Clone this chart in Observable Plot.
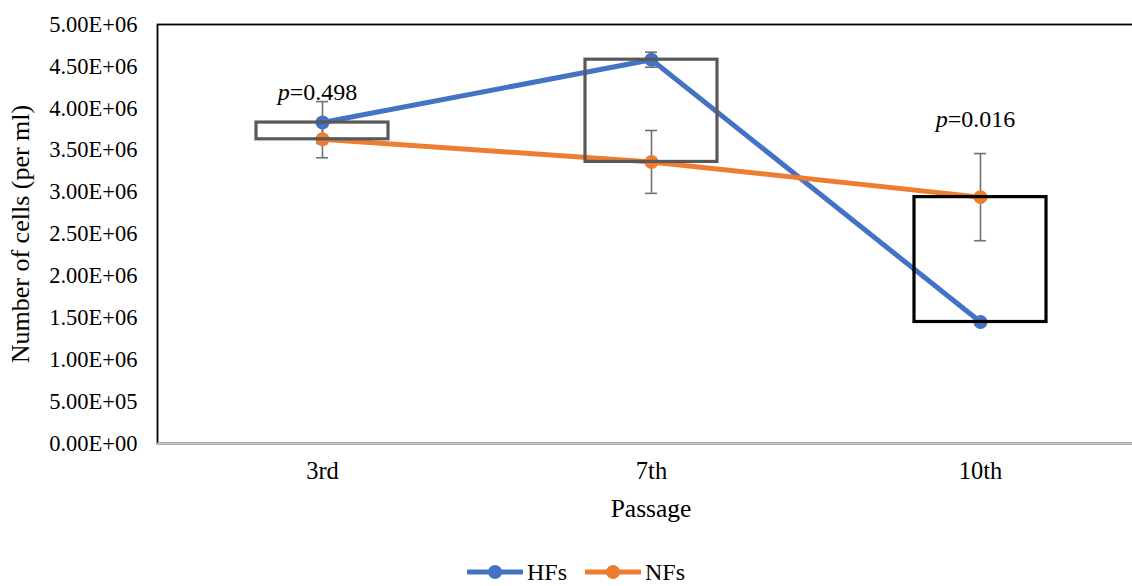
<!DOCTYPE html>
<html>
<head>
<meta charset="utf-8">
<script src="https://cdn.jsdelivr.net/npm/d3@7"></script>
<script src="https://cdn.jsdelivr.net/npm/@observablehq/plot@0.6"></script>
<style>
  html, body { margin: 0; padding: 0; background: #fff; }
  body { width: 1132px; height: 586px; position: relative; overflow: hidden; font-family: "Liberation Serif", "Times New Roman", serif; }
  #legend { position: absolute; left: 0; top: 558px; width: 1132px; height: 28px; }
  .item { position: absolute; top: 0; height: 28px; display: flex; align-items: center; font-size: 24px; line-height: 24px; color: #000; }
  .item svg { margin-right: 4px; }
</style>
</head>
<body>
<div id="chart"></div>
<div id="legend"></div>
<script>
// ---- data ----
const passages = ["3rd", "7th", "10th"];
const seriesNames = ["HFs", "NFs"];
const hfValues = [3.83e6, 4.58e6, 1.45e6];
const nfValues = [3.63e6, 3.36e6, 2.94e6];
const hfErrors = [0.25e6, 0.09e6, 0.02e6];
const nfErrors = [0.22e6, 0.375e6, 0.52e6];
const yTicks = [0, 5e5, 1e6, 1.5e6, 2e6, 2.5e6, 3e6, 3.5e6, 4e6, 4.5e6, 5e6];
const yTickLabels = ["0.00E+00", "5.00E+05", "1.00E+06", "1.50E+06", "2.00E+06", "2.50E+06", "3.00E+06", "3.50E+06", "4.00E+06", "4.50E+06", "5.00E+06"];
const pPassages = ["3rd", "10th"];
const pTexts = ["p=0.498", "p=0.016"];
const pY = [4.195e6, 3.868e6];

const colors = ["#4472C4", "#ED7D31"];
const serif = '"Liberation Serif", "Times New Roman", serif';

// ---- tables built from arrays ----
const rows = [];
passages.forEach((p, i) => {
  rows.push({passage: p, series: "HFs", value: hfValues[i], error: hfErrors[i]});
  rows.push({passage: p, series: "NFs", value: nfValues[i], error: nfErrors[i]});
});
const boxes = passages.map((p, i) => ({
  passage: p,
  lo: Math.min(hfValues[i], nfValues[i]),
  hi: Math.max(hfValues[i], nfValues[i])
}));
const pLabels = pPassages.map((p, i) => ({passage: p, text: pTexts[i], y: pY[i]}));

const chart = Plot.plot({
  width: 1132,
  height: 556,
  marginTop: 24,
  marginBottom: 113,
  marginLeft: 157,
  marginRight: -12,
  style: {fontFamily: serif, fontSize: "24px", color: "#000", background: "#fff"},
  x: {domain: passages, paddingInner: 0.6, paddingOuter: 0.3, label: null},
  y: {domain: [0, 5e6], label: null},
  color: {domain: seriesNames, range: colors},
  marks: [
    Plot.frame({stroke: "#000", strokeWidth: 1.8}),
    Plot.ruleY([0], {stroke: "#c8c8c8", strokeWidth: 2.2}),
    Plot.axisY({ticks: yTicks, tickFormat: d => yTickLabels[yTicks.indexOf(d)], tickSize: 0, tickPadding: 20, fontSize: 22.5, fontFamily: serif, label: null}),
    Plot.axisX({tickSize: 0, tickPadding: 18, fontSize: 24.5, fontFamily: serif, label: null}),
    Plot.text(["Number of cells (per ml)"], {frameAnchor: "left", textAnchor: "middle", rotate: -90, dx: -137, fontSize: 26, fontFamily: serif, fill: "#000"}),
    Plot.text(["Passage"], {frameAnchor: "bottom", dy: 73, fontSize: 25.5, fontFamily: serif, fill: "#000"}),
    Plot.line(rows, {x: "passage", y: "value", stroke: "series", strokeWidth: 5}),
    Plot.ruleX(rows, {x: "passage", y1: d => d.value - d.error, y2: d => d.value + d.error, stroke: "#707070", strokeWidth: 1.6}),
    Plot.tickY(rows, {x: "passage", y: d => d.value + d.error, stroke: "#707070", strokeWidth: 1.6, insetLeft: 60, insetRight: 60}),
    Plot.tickY(rows, {x: "passage", y: d => d.value - d.error, stroke: "#707070", strokeWidth: 1.6, insetLeft: 60, insetRight: 60}),
    Plot.dot(rows, {x: "passage", y: "value", fill: "series", r: 7}),
    Plot.barY(boxes, {x: "passage", y1: "lo", y2: "hi", fill: "none", stroke: d => d.passage === "10th" ? "#000000" : "#595959", strokeWidth: 3.2}),
    Plot.text(pLabels, {x: "passage", y: "y", text: "text", fontSize: 24, fontFamily: serif, fill: "#000", dx: -5})
  ]
});

// italicise the "p" of the p-value labels
d3.select(chart).selectAll("text").each(function() {
  const t = this.textContent;
  if (/^p=/.test(t)) {
    const rest = t.slice(1);
    this.textContent = "";
    d3.select(this).append("tspan").attr("font-style", "italic").text("p");
    d3.select(this).append("tspan").text(rest);
  }
});
document.getElementById("chart").appendChild(chart);

// legend
const legend = document.getElementById("legend");
const legendLeft = [467, 585];
seriesNames.forEach((name, i) => {
  const item = document.createElement("div");
  item.className = "item";
  item.style.left = legendLeft[i] + "px";
  item.innerHTML = `<svg width="56" height="16"><line x1="1" x2="55" y1="8" y2="8" stroke="${colors[i]}" stroke-width="5" stroke-linecap="round"/><circle cx="28" cy="8" r="7" fill="${colors[i]}"/></svg><span>${name}</span>`;
  legend.appendChild(item);
});
</script>
</body>
</html>
